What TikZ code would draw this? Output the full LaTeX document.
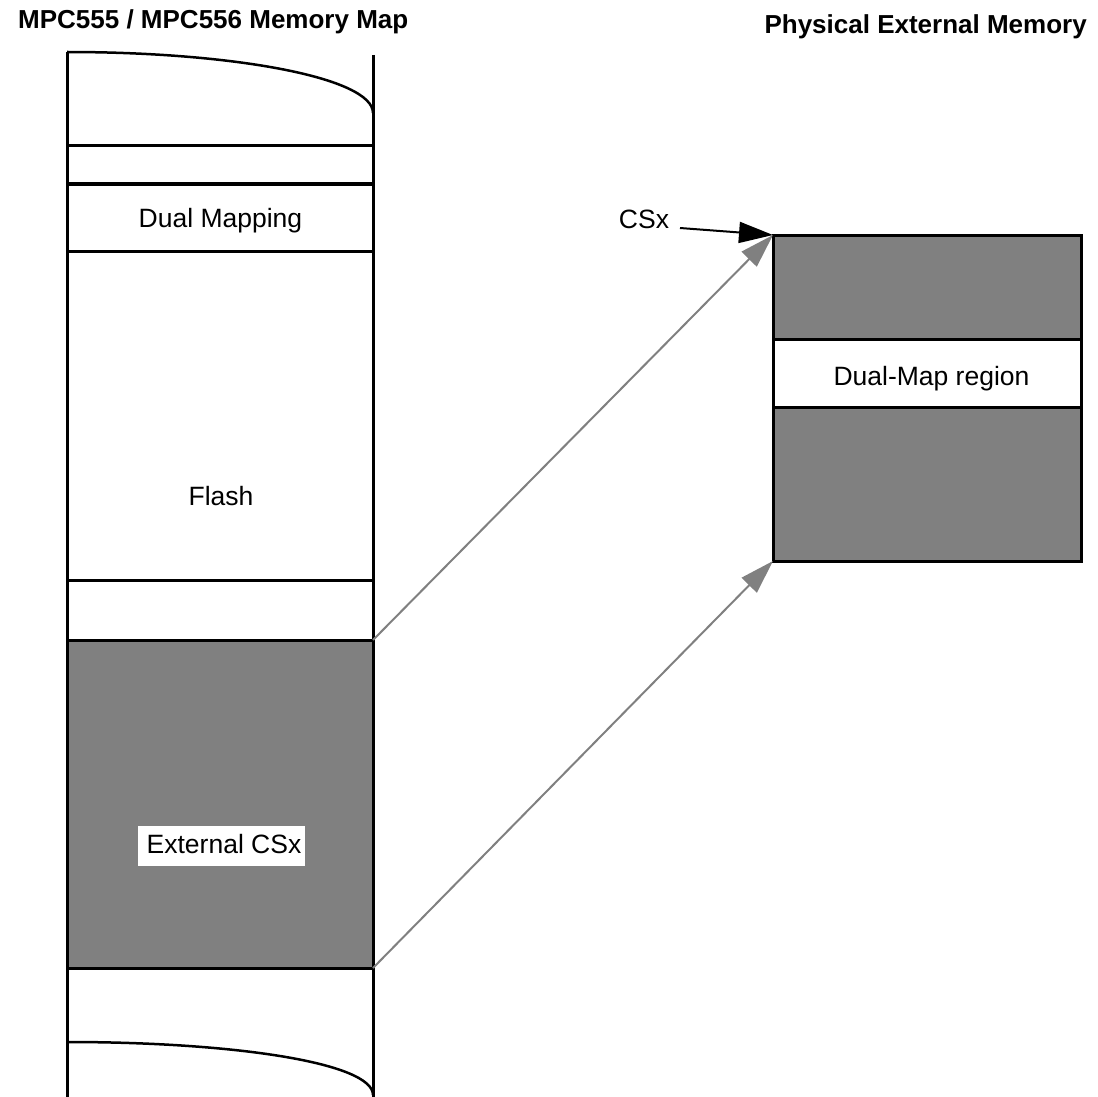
\documentclass[tikz,border=0pt]{standalone}
\usepackage{fontspec}
\setmainfont{Liberation Sans}
\usetikzlibrary{arrows.meta}
\definecolor{mg}{RGB}{128,128,128}
\begin{document}
\begin{tikzpicture}[x=1pt,y=-1pt,
  blk/.style={line width=3pt},
  band/.style={draw, line width=3pt, outer sep=0pt, inner sep=0pt, minimum width=308pt},
  lbl/.style={font=\fontsize{26.5}{30}\selectfont, inner sep=0pt, anchor=base},
  ttl/.style={font=\fontsize{26}{30}\selectfont\bfseries, inner sep=0pt},
  garrow/.style={draw=mg, line width=2pt, -{Triangle[length=34pt,width=21pt]}, fill=mg},
  barrow/.style={draw=black, line width=2pt, -{Triangle[length=34pt,width=21pt]}},
]
\useasboundingbox (0,0) rectangle (1098,1097);
% titles
\node[ttl, anchor=base west] (t1) at (18,28.5) {MPC555 / MPC556 Memory Map};
\node[ttl, anchor=base east] (t2) at (1087,33.5) {Physical External Memory};
% left memory map
\node[band, fill=mg, minimum width=306pt, minimum height=328pt] (ext) at (220,804) {};
\draw[blk] (67,52) -- (67,1097);
\draw[blk] (373,55) -- (373,1097);
\draw[line width=2.5pt] (67,52) .. controls (235,52) and (373,78) .. (373,113);
\draw[line width=2.5pt] (67,1042) .. controls (235,1042) and (373,1063) .. (373,1095);
\draw[blk] (67,146) -- (373,146);
\draw[blk] (67,184) -- (373,184);
\draw[blk] (67,251) -- (373,251);
\draw[blk] (67,580) -- (373,580);
\node[lbl] (dm) at (220.5,227) {Dual Mapping};
\node[lbl] (fl) at (221,505) {Flash};
\node[fill=white, minimum width=167pt, minimum height=40pt, inner sep=0pt] (extbg) at (221.5,846) {};
\node[lbl] (extl) at (224,853) {External CSx};
% right memory
\node[band, fill=mg, minimum height=104pt] (rtop) at (927,287) {};
\node[band, fill=white, minimum height=68pt] (rmid) at (927,373) {};
\node[band, fill=mg, minimum height=154pt] (rbot) at (927,484) {};
\node[lbl] (dmr) at (931.5,385) {Dual-Map region};
\node[lbl] (csx) at (644,228) {CSx};
\coordinate (csxfrom) at (680,228);
% connectors
\draw[garrow] (ext.north east) -- (rtop.north west);
\draw[garrow] (ext.south east) -- (rbot.south west);
\draw[barrow] (csxfrom) -- (rtop.north west);
\end{tikzpicture}
\end{document}
